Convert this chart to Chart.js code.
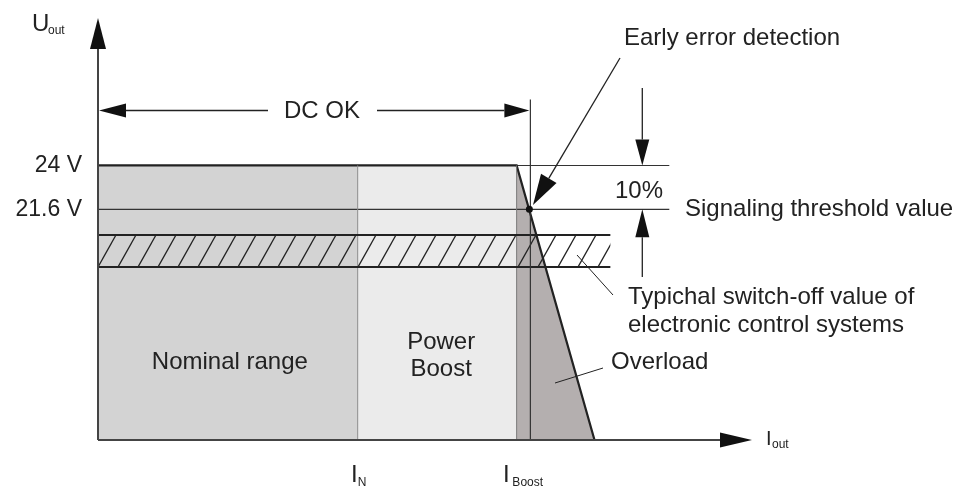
<!DOCTYPE html>
<html>
<head>
<meta charset="utf-8">
<script src="https://cdn.jsdelivr.net/npm/chart.js@4/dist/chart.umd.min.js"></script>
<style>
  body { margin: 0; background: #fff; }
  canvas { display: block; }
</style>
</head>
<body>
<canvas id="myChart" width="959" height="488"></canvas>
<script>
// --- data (x in units of I_N, y in volts) ---
const regionNames = ['Nominal range', 'Power Boost', 'Overload'];
const regionStart = [0, 1.0, 1.612];
const regionEnd = [1.0, 1.612, 1.912];
const regionColors = ['#d3d3d3', '#ebebeb', '#b4afaf'];

const uNominal = 24;
const uThreshold = 21.6;
const uFloor = 9;           // where the drawn U axis begins
const yTicks = [24, 21.6];

const xTickValues = [1.0, 1.665];
const xTickSubs = ['N', 'Boost'];

const switchOffBand = [18.45, 20.2];   // volts, lower / upper edge
const switchOffBandEnd = 1.973;
const dcOkLevel = 27.0;
const guideLineEnd = 2.2;

Chart.defaults.font.family = "'Liberation Sans', Arial, sans-serif";
Chart.defaults.color = '#222';

function pts(xs, ys) {
    return xs.map((x, i) => ({ x: x, y: ys[i] }));
}

function arrow(ctx, x1, y1, x2, y2, len, half) {
    const a = Math.atan2(y2 - y1, x2 - x1);
    const bx = x2 - len * Math.cos(a), by = y2 - len * Math.sin(a);
    ctx.beginPath(); ctx.moveTo(x1, y1); ctx.lineTo(bx, by); ctx.stroke();
    ctx.beginPath();
    ctx.moveTo(x2, y2);
    ctx.lineTo(bx + half * Math.sin(a), by - half * Math.cos(a));
    ctx.lineTo(bx - half * Math.sin(a), by + half * Math.cos(a));
    ctx.closePath(); ctx.fill();
}

function line(ctx, x1, y1, x2, y2) {
    ctx.beginPath(); ctx.moveTo(x1, y1); ctx.lineTo(x2, y2); ctx.stroke();
}

// --- everything that is not a plain line/area: axes arrows, hatch, labels ---
const diagramPlugin = {
    id: 'diagram',
    afterDatasetsDraw(chart) {
        const ctx = chart.ctx;
        const x = chart.scales.x, y = chart.scales.y;
        const px = v => x.getPixelForValue(v);
        const py = v => y.getPixelForValue(v);
        const area = chart.chartArea;
        const ink = '#222';
        ctx.save();
        ctx.fillStyle = ink;
        ctx.strokeStyle = ink;

        // region separators
        ctx.lineWidth = 1;
        ctx.strokeStyle = '#8c8c8c';
        line(ctx, px(regionEnd[0]), py(uNominal), px(regionEnd[0]), area.bottom);
        ctx.strokeStyle = '#7a7a7a';
        line(ctx, px(regionEnd[1]), py(uNominal), px(regionEnd[1]), area.bottom);

        // hatched switch-off band
        const bl = px(0), br = px(switchOffBandEnd);
        const bt = py(switchOffBand[1]), bb = py(switchOffBand[0]);
        ctx.save();
        ctx.beginPath(); ctx.rect(bl, bt, br - bl, bb - bt); ctx.clip();
        ctx.strokeStyle = ink;
        ctx.lineWidth = 1.3;
        for (let sx = bl - 40; sx < br + 40; sx += 20) {
            line(ctx, sx, bb, sx + 18, bt);
        }
        ctx.restore();
        ctx.strokeStyle = ink;
        ctx.lineWidth = 2.2;
        line(ctx, bl, bt, br, bt);
        line(ctx, bl, bb, br, bb);

        // I_Boost vertical marker
        ctx.lineWidth = 1.2;
        ctx.strokeStyle = '#333';
        line(ctx, px(xTickValues[1]), py(dcOkLevel) - 11, px(xTickValues[1]), area.bottom);

        // axes with arrow heads
        ctx.strokeStyle = '#444';
        ctx.fillStyle = '#111';
        ctx.lineWidth = 2;
        arrow(ctx, area.left, area.bottom, area.left, area.top - 1, 31, 8);
        arrow(ctx, area.left, area.bottom, area.right - 3, area.bottom, 32, 7.5);

        // DC OK dimension
        ctx.strokeStyle = ink;
        ctx.lineWidth = 1.3;
        const dcY = py(dcOkLevel);
        arrow(ctx, 268, dcY, area.left + 1, dcY, 27, 7);
        arrow(ctx, 377, dcY, px(xTickValues[1]) - 1, dcY, 25, 7);

        // 10% dimension arrows
        const dx = px(2.096);
        arrow(ctx, dx, 88, dx, py(uNominal), 26, 7);
        arrow(ctx, dx, 277, dx, py(uThreshold), 28, 7);

        // early error detection
        arrow(ctx, 620, 58, 533, 205, 31, 9);
        ctx.beginPath();
        ctx.arc(px(xTickValues[1]) - 1, py(uThreshold), 3.5, 0, Math.PI * 2);
        ctx.fill();

        // leader lines
        ctx.lineWidth = 1;
        line(ctx, 577, 255, 613, 295);
        line(ctx, 555, 383, 603, 368);

        // texts
        ctx.fillStyle = ink;
        ctx.textBaseline = 'middle';
        ctx.font = "24px 'Liberation Sans', Arial, sans-serif";
        ctx.textAlign = 'center';
        ctx.fillText('DC OK', 322, dcY + 1);
        ctx.fillText(regionNames[0], (px(regionStart[0]) + px(regionEnd[0])) / 2 + 2, 362);
        ctx.fillText('Power', (px(regionStart[1]) + px(regionEnd[1])) / 2 + 4, 342);
        ctx.fillText('Boost', (px(regionStart[1]) + px(regionEnd[1])) / 2 + 4, 369);
        ctx.textAlign = 'left';
        ctx.fillText('Early error detection', 624, 38);
        ctx.fillText('10%', 615, 191);
        ctx.fillText('Signaling threshold value', 685, py(uThreshold));
        ctx.fillText('Typichal switch-off value of', 628, 297);
        ctx.fillText('electronic control systems', 628, 325);
        ctx.fillText(regionNames[2], 611, 362);

        // axis names with subscripts
        ctx.textBaseline = 'alphabetic';
        ctx.fillText('U', 32, 31);
        ctx.fillText('I', 351, 482);
        ctx.fillText('I', 503, 482);
        ctx.font = "20px 'Liberation Sans', Arial, sans-serif";
        ctx.fillText('I', 766, 445);
        ctx.font = "12px 'Liberation Sans', Arial, sans-serif";
        ctx.fillText('out', 48, 34);
        ctx.fillText('out', 772, 448);
        ctx.fillText(xTickSubs[0], px(xTickValues[0]), 486);
        ctx.fillText(xTickSubs[1], px(xTickValues[1]) - 18, 486);

        ctx.restore();
    }
};

const ctx = document.getElementById('myChart').getContext('2d');

const areaSets = regionNames.map((name, i) => ({
    label: name,
    data: i < 2
        ? pts([regionStart[i], regionEnd[i]], [uNominal, uNominal])
        : pts([regionStart[i], regionEnd[i]], [uNominal, uFloor]),
    showLine: true,
    fill: 'start',
    backgroundColor: regionColors[i],
    borderWidth: 0,
    pointRadius: 0,
    order: 10
}));

new Chart(ctx, {
    type: 'scatter',
    data: {
        datasets: [
            ...areaSets,
            {
                label: 'U_out characteristic',
                data: pts([regionStart[0], regionStart[2], regionEnd[2]], [uNominal, uNominal, uFloor]),
                showLine: true, borderColor: '#222', borderWidth: 2.2, pointRadius: 0, order: 1
            },
            {
                label: '24 V guide',
                data: pts([regionStart[2], guideLineEnd], [uNominal, uNominal]),
                showLine: true, borderColor: '#333', borderWidth: 1.1, pointRadius: 0, order: 2
            },
            {
                label: 'Signaling threshold',
                data: pts([0, guideLineEnd], [uThreshold, uThreshold]),
                showLine: true, borderColor: '#333', borderWidth: 1.2, pointRadius: 0, order: 2
            }
        ]
    },
    options: {
        responsive: false,
        animation: false,
        devicePixelRatio: 1,
        layout: { padding: { top: 19, right: 204, bottom: 48, left: 0 } },
        plugins: { legend: { display: false }, tooltip: { enabled: false } },
        scales: {
            x: { type: 'linear', min: 0, max: 2.53, display: false },
            y: {
                min: uFloor, max: 32,
                grid: { display: false, drawTicks: false },
                border: { display: false },
                afterFit: s => { s.width = 98; s.paddingTop = 0; s.paddingBottom = 0; },
                afterBuildTicks: s => { s.ticks = yTicks.map(v => ({ value: v })); },
                ticks: {
                    autoSkip: false,
                    padding: 16,
                    color: '#222',
                    font: { size: 23 },
                    callback: v => v + ' V'
                }
            }
        }
    },
    plugins: [diagramPlugin]
});
</script>
</body>
</html>
